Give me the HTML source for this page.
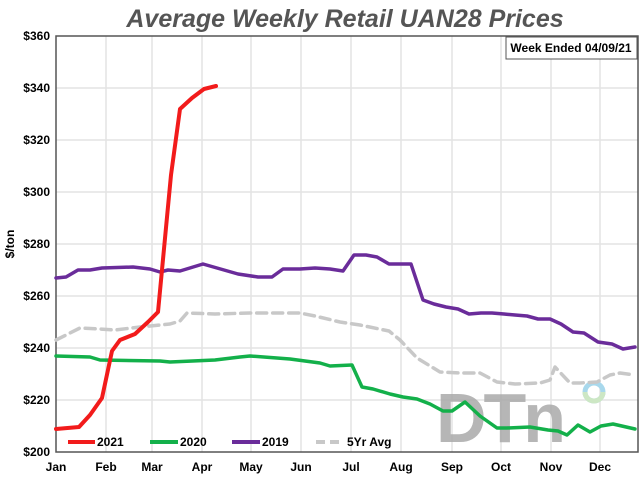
<!DOCTYPE html>
<html><head><style>body{margin:0;background:#fff}</style></head><body>
<svg width="640" height="480" xmlns="http://www.w3.org/2000/svg" font-family="Liberation Sans, sans-serif">
<rect width="640" height="480" fill="#fff"/>
<text x="345" y="27" text-anchor="middle" font-size="25" font-weight="bold" font-style="italic" fill="#555">Average Weekly Retail UAN28 Prices</text>
<g stroke="#e3e3e3" stroke-width="1.5">
<line x1="56" y1="88" x2="638" y2="88"/><line x1="56" y1="140" x2="638" y2="140"/><line x1="56" y1="192" x2="638" y2="192"/><line x1="56" y1="244" x2="638" y2="244"/><line x1="56" y1="296" x2="638" y2="296"/><line x1="56" y1="348" x2="638" y2="348"/><line x1="56" y1="400" x2="638" y2="400"/>
<line x1="106" y1="36" x2="106" y2="452"/><line x1="152" y1="36" x2="152" y2="452"/><line x1="202" y1="36" x2="202" y2="452"/><line x1="251" y1="36" x2="251" y2="452"/><line x1="301" y1="36" x2="301" y2="452"/><line x1="351" y1="36" x2="351" y2="452"/><line x1="401" y1="36" x2="401" y2="452"/><line x1="452" y1="36" x2="452" y2="452"/><line x1="501" y1="36" x2="501" y2="452"/><line x1="551" y1="36" x2="551" y2="452"/><line x1="600" y1="36" x2="600" y2="452"/>
</g>
<rect x="56" y="36" width="582" height="416" fill="none" stroke="#555" stroke-width="1.5"/>
<g font-size="12" font-weight="bold" fill="#000" text-anchor="end">
<text x="50" y="40">$360</text><text x="50" y="92">$340</text><text x="50" y="144">$320</text><text x="50" y="196">$300</text><text x="50" y="248">$280</text><text x="50" y="300">$260</text><text x="50" y="352">$240</text><text x="50" y="404">$220</text><text x="50" y="456">$200</text>
</g>
<text x="14" y="244" font-size="12" font-weight="bold" transform="rotate(-90 14 244)" text-anchor="middle">$/ton</text>
<g font-size="12" font-weight="bold" text-anchor="middle">
<text x="56" y="471">Jan</text><text x="106" y="471">Feb</text><text x="152" y="471">Mar</text><text x="202" y="471">Apr</text><text x="251" y="471">May</text><text x="301" y="471">Jun</text><text x="351" y="471">Jul</text><text x="401" y="471">Aug</text><text x="452" y="471">Sep</text><text x="501" y="471">Oct</text><text x="551" y="471">Nov</text><text x="600" y="471">Dec</text>
</g>
<rect x="506" y="37" width="131" height="22" fill="#fff" stroke="#555"/>
<text x="571" y="52" font-size="12" font-weight="bold" text-anchor="middle">Week Ended 04/09/21</text>
<text x="436" y="442" font-size="70" font-weight="bold" fill="#aaa" opacity="0.85" letter-spacing="-3">DTn</text>
<circle cx="594" cy="392" r="9" fill="none" stroke="#a8d8ec" stroke-width="5"/>
<path d="M585 392 a9 9 0 0 0 18 0" fill="none" stroke="#cde7c4" stroke-width="5"/>
<g fill="none" stroke-linejoin="round" stroke-linecap="round">
<polyline stroke="#c8c8c8" stroke-width="3.5" stroke-dasharray="10,6" points="56,340 80,328 100,329 115,330 140,327 170,324 180,321 187,313 215,314 250,313 300,313 315,316 340,322 360,325 389,331 400,340 417,358 440,372 460,373 480,373 497,382 515,384 540,383 550,380 555,367 570,383 580,383 597,382 610,375 620,373 635,375"/>
<polyline stroke="#6a2c9a" stroke-width="3.5" points="56,278 66,277 78,270 90,270 102,268 133,267 150,269 160,272 168,270 180,271 203,264 217,268 238,274 258,277 272,277 283,269 300,269 315,268 330,269 343,271 354,255 366,255 377,257 389,264 400,264 411,264 423,300 434,304 446,307 458,309 469,314 481,313 492,313 504,314 515,315 527,316 538,319 550,319 561,324 573,332 584,333 598,342 612,344 623,349 635,347"/>
<polyline stroke="#13b04a" stroke-width="3.5" points="56,356 90,357 100,360 160,361 170,362 215,360 240,357 250,356 290,359 320,363 330,366 352,365 362,387 373,389 390,394 403,397 417,399 430,404 443,411 452,411 465,402 480,416 497,428 507,428 530,427 548,430 558,431 567,435 578,425 590,432 601,426 613,424 635,429"/>
<polyline stroke="#f21b1b" stroke-width="4" points="56,429 79,427 90,415 102,398 112,351 120,340 135,334 148,322 158,312 171,175 180,109 192,98 204,89 216,86"/>
</g>
<g font-size="12" font-weight="bold">
<line x1="68" y1="442" x2="95" y2="442" stroke="#f21b1b" stroke-width="4"/><text x="97" y="446">2021</text>
<line x1="150" y1="442" x2="178" y2="442" stroke="#13b04a" stroke-width="4"/><text x="180" y="446">2020</text>
<line x1="232" y1="442" x2="260" y2="442" stroke="#6a2c9a" stroke-width="4"/><text x="262" y="446">2019</text>
<line x1="316" y1="442" x2="344" y2="442" stroke="#c8c8c8" stroke-width="4" stroke-dasharray="9,5"/><text x="347" y="446">5Yr Avg</text>
</g>
</svg>
</body></html>
